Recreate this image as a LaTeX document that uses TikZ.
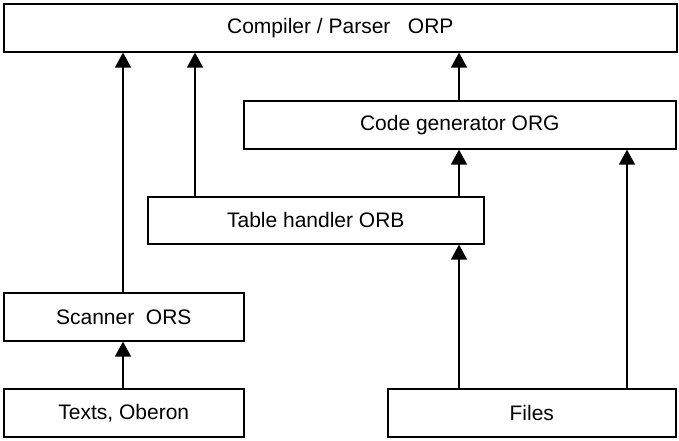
\documentclass[tikz,border=0pt]{standalone}
\usepackage{fontspec}
\setmainfont{Liberation Sans}
\usetikzlibrary{arrows.meta}
\begin{document}
\begin{tikzpicture}[x=1pt,y=-1pt,
  box/.style={draw,line width=1.6pt,inner sep=0pt,anchor=north west,font=\fontsize{21}{24}\selectfont},
  arr/.style={line width=1.6pt,-{Triangle[width=16pt,length=15pt]}}]
\useasboundingbox (0,0) rectangle (679,440);
\node[box,minimum width=673pt,minimum height=48pt] (orp) at (3,3) {Compiler / Parser\ \ \ ORP};
\node[box,minimum width=432pt,minimum height=48pt] (org) at (243,100) {Code generator ORG};
\node[box,minimum width=336pt,minimum height=47pt] (orb) at (147,196) {Table handler ORB};
\node[box,minimum width=240pt,minimum height=48pt] (ors) at (3,292) {Scanner\ \ ORS};
\node[box,minimum width=240pt,minimum height=48pt] (txt) at (3,388) {Texts, Oberon};
\node[box,minimum width=288pt,minimum height=48pt] (fil) at (387,388) {Files};
\coordinate (a1) at (123,0);
\coordinate (a2) at (195,0);
\coordinate (a3) at (459,0);
\coordinate (a4) at (627,0);
\draw[arr] (ors.north -| a1) -- (orp.south -| a1);
\draw[arr] (orb.north -| a2) -- (orp.south -| a2);
\draw[arr] (org.north -| a3) -- (orp.south -| a3);
\draw[arr] (orb.north -| a3) -- (org.south -| a3);
\draw[arr] (txt.north -| a1) -- (ors.south -| a1);
\draw[arr] (fil.north -| a3) -- (orb.south -| a3);
\draw[arr] (fil.north -| a4) -- (org.south -| a4);
\end{tikzpicture}
\end{document}
